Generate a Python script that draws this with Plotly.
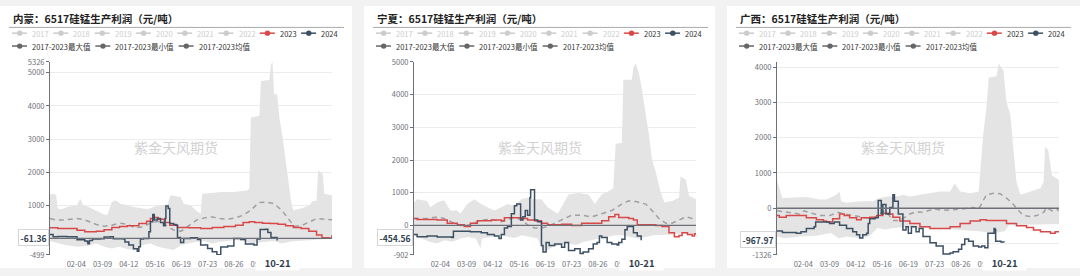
import plotly.graph_objects as go
from datetime import date

W, H = 1080, 276
FONT = "Noto Sans CJK SC"

# ---------------- data ----------------
TITLES = ["内蒙：6517硅锰生产利润（元/吨）", "宁夏：6517硅锰生产利润（元/吨）", "广西：6517硅锰生产利润（元/吨）"]
LEGEND_YEARS = ["2017", "2018", "2019", "2020", "2021", "2022", "2023", "2024"]
LEGEND_STATS = ["2017-2023最大值", "2017-2023最小值", "2017-2023均值"]
X_TICK_LABELS = ["02-04", "03-09", "04-12", "05-16", "06-19", "07-23", "08-26", "09-29"]
POINTER_DATE = "10-21"
POINTER_VALUES = ["-61.36", "-454.56", "-967.97"]
WATERMARK = "紫金天风期货"

Y_RANGES = [(-499, 5326), (-902, 5000), (-1326, 4150)]
Y_TICKS = [[-499, 0, 1000, 2000, 3000, 4000, 5000, 5326],
           [-902, 0, 1000, 2000, 3000, 4000, 5000],
           [-1326, -1000, 0, 1000, 2000, 3000, 4000]]
Y_TICK_TEXT = [["-499", "", "1000", "2000", "3000", "4000", "5000", "5326"],
               ["-902", "0", "1000", "2000", "3000", "4000", "5000"],
               ["-1326", "", "0", "1000", "2000", "3000", "4000"]]

# (day of year index, value)
NM_MAX = [(0, 1330), (5, 1350), (8, 1300), (10, 900), (15, 880), (22, 950), (28, 980), (35, 1000), (39, 1200),
          (43, 1000), (50, 950), (59, 850), (67, 750), (74, 700), (80, 1100), (85, 1150), (91, 1050), (100, 1000),
          (108, 950), (117, 920), (126, 880), (134, 950), (143, 1000), (152, 1020), (156, 1300), (169, 1250),
          (173, 1050), (182, 1000), (191, 800), (195, 750), (197, 1350), (212, 1380), (221, 1400), (238, 1400),
          (255, 1450), (258, 1500), (260, 3650), (271, 3700), (273, 4750), (284, 4780), (286, 5250), (288, 5326),
          (290, 4350), (294, 4350), (297, 3630), (301, 3060), (305, 2380), (308, 1710), (312, 1130), (315, 850),
          (325, 900), (336, 1000), (340, 1130), (345, 1130), (347, 2050), (353, 1950), (355, 1350), (365, 1300)]
NM_MIN = [(0, -80), (10, -150), (20, -200), (35, -250), (50, -220), (60, -150), (70, -250), (80, -300), (90, -250),
          (100, -320), (110, -350), (120, -200), (130, -150), (140, -250), (150, -300), (160, -350), (170, -200),
          (180, -150), (190, -100), (200, -80), (210, -150), (220, -100), (230, -80), (240, -50), (250, -80),
          (260, -150), (270, -120), (280, -100), (290, -80), (300, -150), (310, -100), (320, -80), (330, -60),
          (340, -40), (350, -30), (365, -20)]
NM_MEAN = [(0, 600), (7, 560), (20, 560), (35, 600), (45, 560), (60, 420), (70, 370), (80, 400), (90, 460),
           (100, 430), (110, 320), (120, 350), (130, 460), (140, 520), (150, 400), (160, 250), (170, 220),
           (180, 400), (190, 560), (200, 620), (210, 650), (220, 600), (230, 580), (240, 620), (250, 700),
           (260, 850), (270, 1080), (280, 1100), (290, 1050), (300, 850), (310, 550), (316, 370), (325, 380),
           (335, 500), (345, 600), (355, 580), (365, 560)]
NM_2023 = [(0, 320), (10, 300), (28, 300), (35, 250), (45, 200), (60, 220), (70, 260), (80, 330), (90, 360),
           (100, 380), (115, 450), (125, 520), (130, 600), (135, 630), (140, 580), (148, 480), (155, 400),
           (165, 330), (180, 320), (195, 300), (210, 330), (225, 360), (240, 400), (250, 480), (258, 500),
           (265, 480), (275, 460), (285, 450), (295, 430), (305, 380), (315, 330), (325, 300), (335, 220),
           (345, 100), (352, 20), (360, 10), (365, 100)]
NM_2024 = [(0, 120), (4, 50), (10, 60), (22, 50), (35, -40), (45, -80), (48, -90), (49, -160), (51, -60),
           (55, -20), (65, -10), (70, 40), (78, 50), (82, -10), (95, -20), (97, -110), (102, -200), (108, -310),
           (113, -390), (115, -250), (117, -20), (121, 0), (128, 200), (130, 500), (133, 720), (135, 560),
           (139, 600), (143, 480), (147, 380), (149, 600), (150, 980), (153, 900), (155, 450), (160, 420),
           (163, 400), (165, 30), (169, -120), (173, 0), (182, 20), (191, -30), (195, -200), (204, -300),
           (210, -400), (216, -490), (221, -260), (230, -230), (238, 0), (247, -30), (253, -170), (264, -200),
           (268, -20), (272, 270), (279, 280), (282, 180), (286, 30), (294, -61.36)]

NX_MAX = [(0, 703), (4, 800), (17, 752), (21, 557), (30, 703), (39, 771), (47, 459), (56, 459), (60, 361),
          (69, 654), (78, 800), (87, 654), (95, 557), (104, 459), (113, 557), (121, 654), (130, 605), (139, 800),
          (147, 850), (156, 800), (165, 800), (173, 557), (186, 361), (195, 752), (200, 947), (213, 996),
          (226, 947), (234, 654), (243, 947), (252, 1045), (258, 1140), (261, 2500), (269, 2520), (271, 4460),
          (282, 4460), (284, 4850), (287, 4950), (291, 4660), (295, 4170), (300, 3390), (304, 2800), (308, 2020),
          (313, 1630), (319, 1050), (324, 700), (334, 750), (343, 850), (345, 1500), (352, 1400), (356, 900),
          (365, 800)]
NX_MIN = [(0, -300), (10, -400), (20, -500), (30, -550), (40, -450), (50, -500), (60, -400), (70, -350),
          (80, -400), (86, -700), (88, -400), (100, -350), (110, -300), (120, -350), (130, -380), (140, -300),
          (150, -350), (160, -400), (165, -700), (170, -800), (180, -650), (190, -600), (200, -550), (210, -600),
          (220, -500), (230, -450), (240, -400), (250, -350), (260, -300), (270, -300), (280, -350), (290, -400),
          (300, -350), (310, -300), (320, -300), (330, -280), (340, -250), (350, -250), (365, -250)]
NX_MEAN = [(0, 215), (17, 215), (30, 264), (39, 215), (52, 68), (65, -29), (73, 20), (87, 166), (100, 186),
           (113, 117), (121, 166), (130, 264), (139, 166), (147, 20), (156, -78), (165, -78), (173, -29),
           (182, 68), (191, 166), (204, 313), (217, 313), (230, 264), (243, 361), (256, 459), (269, 654),
           (278, 752), (287, 732), (300, 654), (308, 459), (317, 215), (326, 68), (334, 68), (343, 166),
           (352, 264), (360, 215), (365, 264)]
NX_2023 = [(0, 215), (4, 185), (17, 185), (30, 166), (43, 68), (56, 20), (65, -29), (73, 68), (82, 146),
           (100, 166), (113, 146), (117, 235), (130, 235), (139, 215), (147, 166), (156, 146), (165, 68),
           (173, 20), (191, 40), (204, 0), (217, 68), (230, 68), (243, 146), (252, 264), (260, 332), (265, 244),
           (278, 215), (284, 166), (289, 20), (300, 20), (313, 0), (321, -29), (330, -225), (337, -342),
           (343, -303), (347, -225), (354, -273), (360, -322), (363, -254), (365, -283)]
NX_2024 = [(0, -273), (4, -342), (17, -322), (30, -352), (49, -371), (51, -176), (60, -176), (73, -195),
           (87, -225), (95, -273), (104, -322), (110, -400), (113, -273), (117, -78), (121, -29), (126, 361),
           (130, 605), (133, 654), (138, 166), (141, 264), (144, 459), (147, 313), (150, 850), (151, 1090),
           (154, 1090), (156, 166), (160, 117), (165, -615), (167, -810), (171, -518), (175, -615), (182, -566),
           (191, -664), (195, -518), (200, -762), (208, -713), (215, -859), (219, -810), (226, -713), (232, -566),
           (237, -518), (240, -322), (243, -371), (250, -518), (256, -566), (263, -596), (265, -518), (269, -420),
           (273, -127), (276, -29), (282, -29), (284, -225), (289, -322), (294, -454.56)]

GX_MAX = [(0, 790), (3, 564), (7, 291), (38, 318), (55, 245), (64, 245), (77, 382), (81, 473), (83, 200),
          (90, 155), (107, 200), (124, 200), (133, 291), (142, 336), (155, 336), (163, 382), (172, 336),
          (185, 382), (198, 427), (211, 473), (224, 473), (230, 700), (237, 473), (250, 427), (261, 473),
          (263, 1109), (267, 2109), (271, 2836), (274, 3700), (284, 3745), (287, 4109), (291, 3973), (293, 3927),
          (297, 3018), (302, 2655), (306, 1655), (310, 745), (315, 382), (328, 473), (341, 564), (345, 745),
          (347, 1745), (351, 1655), (356, 927), (360, 882), (365, 791)]
GX_MIN = [(0, -800), (10, -850), (30, -800), (50, -780), (70, -700), (80, -850), (90, -800), (110, -850),
          (120, -780), (130, -560), (140, -600), (150, -560), (160, -550), (170, -520), (180, -560), (200, -560),
          (220, -580), (240, -620), (260, -650), (280, -700), (295, -650), (300, -480), (320, -470), (340, -460),
          (365, -450)]
GX_MEAN = [(0, -73), (12, -118), (29, -164), (35, -73), (42, -118), (55, -209), (68, -209), (79, -118),
           (88, -164), (98, -209), (111, -255), (124, -300), (133, -164), (139, -73), (144, -164), (150, -345),
           (159, -345), (172, -164), (180, -100), (189, -118), (202, -27), (219, -55), (237, -27), (254, 18),
           (261, -27), (267, 200), (271, 382), (280, 427), (289, 409), (297, 291), (306, 109), (313, -73),
           (319, -209), (328, -236), (336, -209), (345, -118), (349, 18), (356, -73), (362, -27), (365, -73)]
GX_2023 = [(0, -209), (3, -255), (12, -209), (25, -209), (38, -273), (51, -327), (60, -364), (64, -391),
           (72, -300), (81, -164), (87, -209), (94, -273), (103, -327), (109, -273), (120, -255), (129, -209),
           (137, -145), (144, -164), (150, -255), (159, -364), (172, -436), (185, -527), (198, -573), (211, -573),
           (224, -527), (237, -436), (250, -364), (263, -327), (271, -345), (284, -345), (297, -436), (310, -500),
           (323, -545), (332, -618), (341, -664), (354, -709), (360, -664), (365, -664)]
GX_2024 = [(0, -645), (7, -690), (25, -709), (31, -664), (38, -573), (48, -527), (50, -391), (68, -436),
           (74, -391), (81, -482), (90, -573), (98, -664), (103, -755), (107, -845), (111, -755), (116, -709),
           (118, -436), (120, -300), (127, -273), (131, 218), (135, -164), (137, 109), (141, -164), (146, 18),
           (150, 382), (152, 200), (157, -164), (163, -618), (167, -527), (170, -709), (174, -527), (180, -664),
           (184, -573), (189, -800), (198, -982), (206, -1073), (215, -1300), (224, -1273), (228, -1236),
           (235, -1164), (239, -1027), (243, -873), (248, -936), (254, -1073), (261, -1100), (265, -1073),
           (269, -1120), (273, -709), (280, -709), (281, -573), (282, -600), (283, -936), (290, -960),
           (294, -967.97)]

PANEL_DATA = [
    (NM_MAX, NM_MIN, NM_MEAN, NM_2023, NM_2024),
    (NX_MAX, NX_MIN, NX_MEAN, NX_2023, NX_2024),
    (GX_MAX, GX_MIN, GX_MEAN, GX_2023, GX_2024),
]

# ---------------- styling / layout ----------------
PANEL_LEFT = [0, 364, 727]
PANEL_W = [352, 351, 353]
PLOT_L, PLOT_R = 50, 332
PLOT_T, PLOT_B = 58.3, 259.3

C_RED = "#d94848"
C_DARK = "#3d5063"
C_BAND = "#e4e4e4"
C_MEAN = "#a0a0a0"
C_AXIS = "#6E7079"
C_OFF = "#cccccc"
C_STAT = "#666666"


def doy(mmdd):
    m, d = mmdd.split("-")
    return (date(2024, int(m), int(d)) - date(2024, 1, 1)).days


def px(x):
    return x / W


def py(y):
    return 1 - y / H


fig = go.Figure()
shapes = []
annotations = []

for i, (mx, mn, mean, y23, y24) in enumerate(PANEL_DATA):
    L = PANEL_LEFT[i]
    sfx = "" if i == 0 else str(i + 1)
    xa, ya = "x" + sfx, "y" + sfx

    # band (max over min)
    bx = [d for d, _ in mx] + [d for d, _ in mn][::-1]
    by = [v for _, v in mx] + [v for _, v in mn][::-1]
    fig.add_trace(go.Scatter(x=bx, y=by, fill="toself", fillcolor=C_BAND, mode="lines",
                             line=dict(width=0, color=C_BAND), xaxis=xa, yaxis=ya,
                             showlegend=False, hoverinfo="skip"))
    fig.add_trace(go.Scatter(x=[d for d, _ in mean], y=[v for _, v in mean], mode="lines",
                             line=dict(color=C_MEAN, width=1.5, dash="5px,4px"),
                             xaxis=xa, yaxis=ya, showlegend=False))
    fig.add_trace(go.Scatter(x=[d for d, _ in y23], y=[v for _, v in y23], mode="lines",
                             line=dict(color=C_RED, width=1.5, shape="hv"),
                             xaxis=xa, yaxis=ya, showlegend=False))
    fig.add_trace(go.Scatter(x=[d for d, _ in y24], y=[v for _, v in y24], mode="lines",
                             line=dict(color=C_DARK, width=1.5, shape="hv"),
                             xaxis=xa, yaxis=ya, showlegend=False))

    lo, hi = Y_RANGES[i]
    fig.update_layout(**{
        "xaxis" + sfx: dict(domain=[px(L + PLOT_L), px(L + PLOT_R)], range=[0, 365], anchor=ya,
                            showgrid=False, zeroline=False, showline=False,
                            tickvals=[doy(t) for t in X_TICK_LABELS], ticktext=X_TICK_LABELS,
                            tickfont=dict(family=FONT, size=7.5, color=C_AXIS), ticks="",
                            ticklabelstandoff=4),
        "yaxis" + sfx: dict(domain=[py(PLOT_B), py(PLOT_T)], range=[lo, hi], anchor=xa,
                            showgrid=True, gridcolor="#ececec", gridwidth=1, zeroline=False,
                            showline=True, linecolor=C_AXIS, linewidth=1,
                            ticks="outside", ticklen=3, tickcolor=C_AXIS,
                            tickvals=Y_TICKS[i], ticktext=Y_TICK_TEXT[i],
                            tickfont=dict(family=FONT, size=7.5, color=C_AXIS)),
    })

    # white card
    shapes.append(dict(type="rect", xref="paper", yref="paper", x0=px(L), x1=px(L + PANEL_W[i]),
                       y0=py(273), y1=py(0), fillcolor="white", line=dict(width=0), layer="below"))
    # zero axis line
    shapes.append(dict(type="line", xref=xa + " domain", yref=ya, x0=0, x1=1, y0=0, y1=0,
                       line=dict(color=C_AXIS, width=1.3), layer="above"))
    # title separator
    shapes.append(dict(type="line", xref="paper", yref="paper", x0=px(L + 9), x1=px(L + 344),
                       y0=py(22.3), y1=py(22.3), line=dict(color="#aaaaaa", width=1)))

    # title
    annotations.append(dict(text=TITLES[i], xref="paper", yref="paper", x=px(L + 11), y=py(13),
                            xanchor="left", yanchor="middle", showarrow=False,
                            font=dict(family=FONT, size=10.5, color="#222222", weight=700)))

    # legend row 1
    for j, name in enumerate(LEGEND_YEARS):
        il = L + 12 + j * 41.3
        yy = 28.3
        if name == "2023":
            c, tc = C_RED, "#333333"
        elif name == "2024":
            c, tc = C_DARK, "#333333"
        else:
            c, tc = C_OFF, C_OFF
        shapes.append(dict(type="line", xref="paper", yref="paper", x0=px(il), x1=px(il + 15),
                           y0=py(yy), y1=py(yy), line=dict(color=c, width=1.5)))
        shapes.append(dict(type="circle", xref="paper", yref="paper", x0=px(il + 5), x1=px(il + 10.4),
                           y0=py(yy + 2.7), y1=py(yy - 2.7), fillcolor=c, line=dict(width=0)))
        annotations.append(dict(text=name, xref="paper", yref="paper", x=px(il + 18), y=py(yy),
                                xanchor="left", yanchor="middle", showarrow=False,
                                font=dict(family=FONT, size=7.5, color=tc)))
    # legend row 2
    for j, name in enumerate(LEGEND_STATS):
        il = L + 12 + j * 83.3
        yy = 41.7
        shapes.append(dict(type="line", xref="paper", yref="paper", x0=px(il), x1=px(il + 15),
                           y0=py(yy), y1=py(yy), line=dict(color=C_STAT, width=1.5)))
        shapes.append(dict(type="circle", xref="paper", yref="paper", x0=px(il + 5), x1=px(il + 10.4),
                           y0=py(yy + 2.7), y1=py(yy - 2.7), fillcolor=C_STAT, line=dict(width=0)))
        annotations.append(dict(text=name, xref="paper", yref="paper", x=px(il + 18), y=py(yy),
                                xanchor="left", yanchor="middle", showarrow=False,
                                font=dict(family=FONT, size=7.5, color="#333333")))

    # watermark
    annotations.append(dict(text=WATERMARK, xref="paper", yref="paper", x=px(L + 176), y=py(147),
                            xanchor="center", yanchor="middle", showarrow=False,
                            font=dict(family=FONT, size=14, color="#d2d2d2")))

    # axis pointer labels
    annotations.append(dict(text=POINTER_VALUES[i], xref="paper", yref=ya, x=px(L + PLOT_L - 1.5),
                            y=float(POINTER_VALUES[i]), xanchor="right", yanchor="middle", yshift=2.5,
                            showarrow=False, bgcolor="white", bordercolor="#d6d6d6", borderwidth=1,
                            borderpad=1.5, font=dict(family=FONT, size=8.5, color="#2f3e4e", weight=700)))
    nb = "\u00a0" * 4
    annotations.append(dict(text=nb + POINTER_DATE + nb, xref=xa, yref="paper", x=doy(POINTER_DATE),
                            y=py(267.5), xanchor="center", yanchor="middle", showarrow=False,
                            bgcolor="white", borderpad=0,
                            font=dict(family=FONT, size=9.5, color="#2f3e4e", weight=700)))

fig.update_layout(width=W, height=H, margin=dict(l=0, r=0, t=0, b=0, pad=0),
                  paper_bgcolor="#f2f2f2", plot_bgcolor="white", showlegend=False,
                  shapes=shapes, annotations=annotations, font=dict(family=FONT))

fig.write_html("out.html")
